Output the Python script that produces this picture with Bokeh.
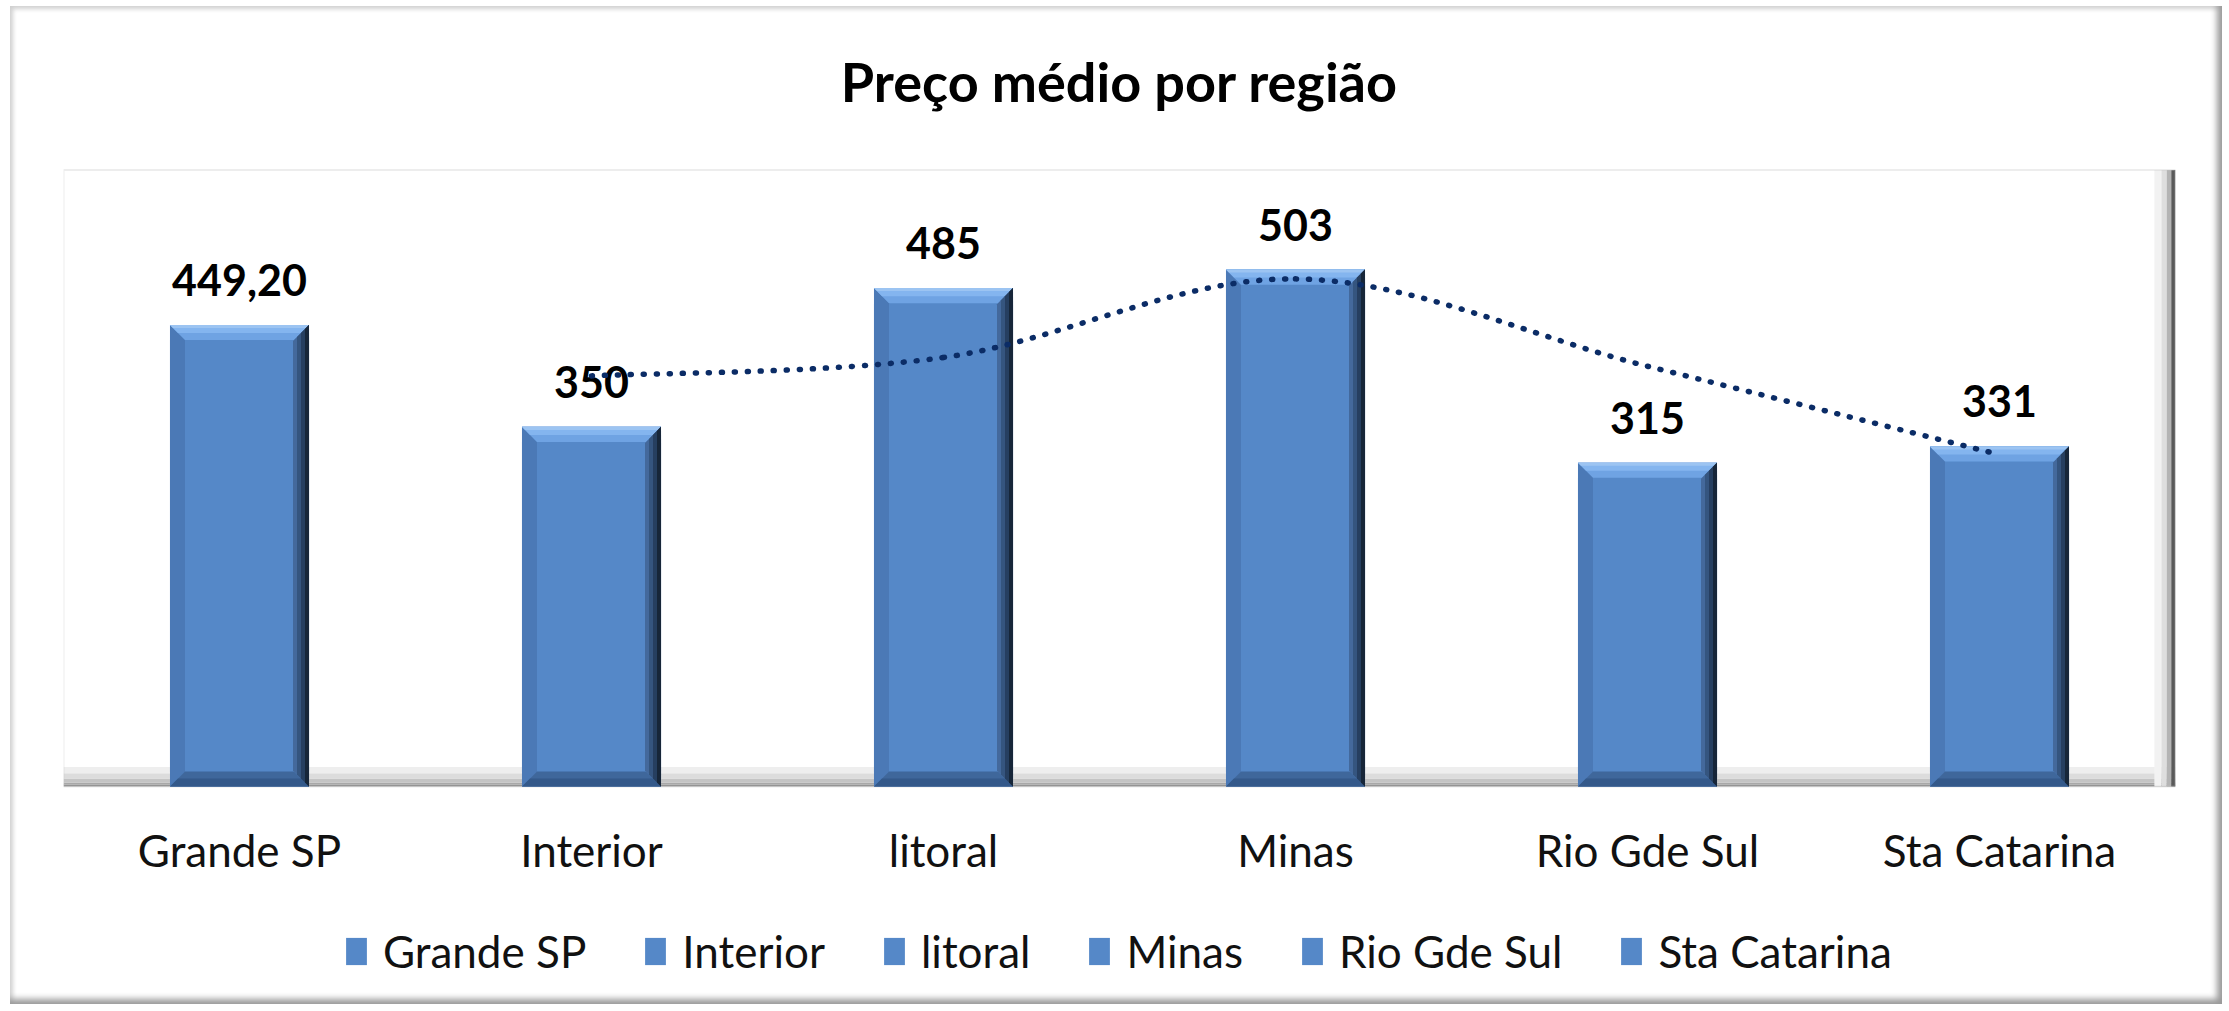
from bokeh.plotting import figure
from bokeh.models import FactorRange, Range1d, Legend, LegendItem, BoxAnnotation, ColumnDataSource
from bokeh.core.properties import value
from bokeh.embed import file_html
from bokeh.resources import INLINE

# ---------------- data ----------------
categories = ["Grande SP", "Interior", "litoral", "Minas", "Rio Gde Sul", "Sta Catarina"]
precos = [449.20, 350, 485, 503, 315, 331]
rotulos = ["449,20", "350", "485", "503", "315", "331"]
titulo = "Preço médio por região"
y_max = 600
# dotted trendline (2-period moving average), at Interior..Sta Catarina
trend_categories = ["Interior", "litoral", "Minas", "Rio Gde Sul", "Sta Catarina"]
trend_values = [399.6, 417.5, 494.0, 409.0, 323.0]

# ---------------- style / layout ----------------
FONT = "Lato"
BAR_W = 0.395
BAR_COLOR = "#5588C8"
VIEW_BOTTOM, VIEW_TOP = -212, 759   # visible span: plot area plus room for title, labels, legend
TITLE_Y = 686
CAT_LABEL_Y = -62
PX_X = 1 / 352      # category units per screen pixel
PX_Y = 1 / 1.027    # value units per screen pixel

src = ColumnDataSource(dict(cat=categories, val=precos, lab=rotulos, bot=[0] * len(precos)))

p = figure(x_range=FactorRange(*categories, range_padding=0), y_range=Range1d(VIEW_BOTTOM, VIEW_TOP),
           width=2212, height=998, output_backend="svg", toolbar_location=None,
           min_border_left=53, min_border_right=47, min_border_top=0, min_border_bottom=0)

p.styles = {"box-shadow": "inset -8px -8px 6px -3px #9a9a9a, inset 4px 4px 4px -1px #d0d0d0",
            "background-color": "white", "margin": "6px 0px 0px 10px"}
p.border_fill_alpha = 0
p.background_fill_alpha = 0
p.outline_line_color = None
p.xgrid.grid_line_color = None
p.ygrid.grid_line_color = None
p.xaxis.visible = False
p.yaxis.visible = False

# plot area: floor bevel, right-side shadow and border
for b0, b1, c in [(0, 2, "#8c8c8c"), (2, 4, "#a8a8a8"), (4, 8, "#c4c4c4"), (8, 13, "#dcdcdc"), (13, 19, "#eeeeee")]:
    p.add_layout(BoxAnnotation(bottom=b0, top=b1, fill_color=c, fill_alpha=1, line_alpha=0, level="underlay"))
for l0, l1, c in [(5.94, 5.96, "#f2f2f2"), (5.96, 5.975, "#dedede"), (5.975, 5.988, "#b4b4b4"), (5.988, 6.0, "#5a5a5a")]:
    p.add_layout(BoxAnnotation(left=l0, right=l1, bottom=0, top=y_max, fill_color=c, fill_alpha=1,
                               line_alpha=0, level="underlay"))
p.add_layout(BoxAnnotation(bottom=0, top=y_max, fill_alpha=0, line_color="#c4c4c4", line_width=2,
                           level="underlay"))

# bars
bars = p.vbar(x="cat", top="val", bottom="bot", width=BAR_W, source=src,
              fill_color=BAR_COLOR, line_color=None)

# bevel facets of each bar, derived from the bar values (positions in category/value units)
half = BAR_W / 2
def bevel_patches(d_px, side):
    xs, ys = [], []
    dx, dy = d_px * PX_X, d_px * PX_Y
    for i, v in enumerate(precos):
        xl, xr = i + 0.5 - half, i + 0.5 + half
        if side == "top":
            xs.append([xl, xr, xr - dx, xl + dx]); ys.append([v, v, v - dy, v - dy])
        elif side == "bottom":
            xs.append([xl, xr, xr - dx, xl + dx]); ys.append([0, 0, dy, dy])
        elif side == "left":
            xs.append([xl, xl + dx, xl + dx, xl]); ys.append([v, v - dy, dy, 0])
        else:
            xs.append([xr, xr - dx, xr - dx, xr]); ys.append([v, v - dy, dy, 0])
    return dict(xs=xs, ys=ys)

for d, c in [(15, "#4B79B6")]:
    p.patches("xs", "ys", source=ColumnDataSource(bevel_patches(d, "left")), fill_color=c, line_color=None)
for d, c in [(15, "#3F679B"), (8, "#34598A")]:
    p.patches("xs", "ys", source=ColumnDataSource(bevel_patches(d, "bottom")), fill_color=c, line_color=None)
for d, c in [(15, "#6FA3E3"), (8, "#84B5EF"), (3, "#9CC4F2")]:
    p.patches("xs", "ys", source=ColumnDataSource(bevel_patches(d, "top")), fill_color=c, line_color=None)
for d, c in [(16, "#44699C"), (12, "#35557F"), (8, "#263F60"), (4, "#172639")]:
    p.patches("xs", "ys", source=ColumnDataSource(bevel_patches(d, "right")), fill_color=c, line_color=None)

# data labels
p.text(x="cat", y="val", text="lab", source=src, text_align="center", text_baseline="alphabetic",
       y_offset=-45, text_font=value(FONT), text_font_style="bold", text_font_size="43px",
       text_color="#000000")

# category labels
p.text(x=categories, y=[CAT_LABEL_Y] * len(categories), text=categories, text_align="center",
       text_baseline="middle", text_font=value(FONT), text_font_size="44px", text_color="#111111")

# title
p.text(x=[len(categories) / 2], y=[TITLE_Y], text=[titulo], text_align="center", text_baseline="middle",
       text_font=value(FONT), text_font_style="bold", text_font_size="54px", text_color="#000000")

# smoothed dotted trendline (Catmull-Rom bezier through the trend points)
pos = {c: i + 0.5 for i, c in enumerate(categories)}
P = [(pos[c], v) for c, v in zip(trend_categories, trend_values)]
seg = dict(x0=[], y0=[], x1=[], y1=[], cx0=[], cy0=[], cx1=[], cy1=[])
for k in range(len(P) - 1):
    a, b = P[k], P[k + 1]
    pr = P[k - 1] if k > 0 else a
    nx = P[k + 2] if k + 2 < len(P) else b
    seg["x0"].append(a[0]); seg["y0"].append(a[1])
    seg["x1"].append(b[0]); seg["y1"].append(b[1])
    seg["cx0"].append(a[0] + (b[0] - pr[0]) / 6); seg["cy0"].append(a[1] + (b[1] - pr[1]) / 6)
    seg["cx1"].append(b[0] - (nx[0] - a[0]) / 6); seg["cy1"].append(b[1] - (nx[1] - a[1]) / 6)
p.bezier(x0="x0", y0="y0", x1="x1", y1="y1", cx0="cx0", cy0="cy0", cx1="cx1", cy1="cy1",
         source=ColumnDataSource(seg), line_color="#0b2c66", line_width=5.5,
         line_dash="1 12", line_cap="round")

# legend
items = [LegendItem(label=c, renderers=[bars], index=i) for i, c in enumerate(categories)]
legend = Legend(items=items, orientation="horizontal", location=(280, 27), nrows=1,
                label_text_font=FONT, label_text_font_size="44px", label_text_color="#111111",
                glyph_width=26, glyph_height=34, label_standoff=14, spacing=56,
                padding=0, margin=0, border_line_alpha=0, background_fill_alpha=0)
p.add_layout(legend, "center")

open("out.html", "w").write(file_html(p, INLINE))
